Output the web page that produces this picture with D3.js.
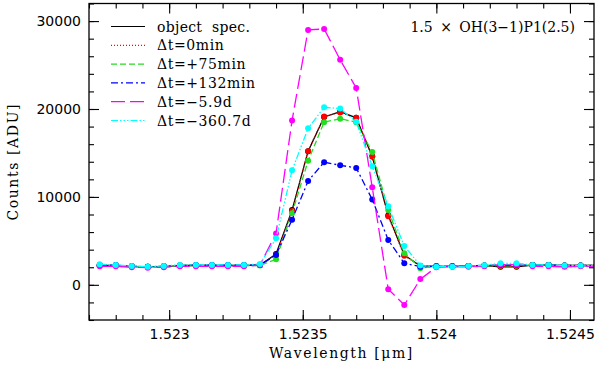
<!DOCTYPE html>
<html>
<head>
<meta charset="utf-8">
<script src="https://cdn.jsdelivr.net/npm/d3@7"></script>
<style>
  body { margin: 0; background: #fff; }
  svg { display: block; }
  .axis path, .axis line { stroke: #000; }
  .axis text { font-family: "DejaVu Sans", sans-serif; font-size: 14px; fill: #000; }
</style>
</head>
<body>
<svg id="chart"></svg>
<script>
// wavelengths of the spectrum pixels [micron]
const wavelength = [1.52274, 1.52280, 1.52286, 1.52292, 1.52298, 1.52304, 1.52310, 1.52316,
    1.52322, 1.52328, 1.52334, 1.52340, 1.52346, 1.52352, 1.52358, 1.52364,
    1.52370, 1.52376, 1.52382, 1.52388, 1.52394, 1.52400, 1.52406, 1.52412,
    1.52418, 1.52424, 1.52430, 1.52436, 1.52442, 1.52448, 1.52454, 1.52460];

// counts [ADU]
const objectSpec = [2200, 2200, 2100, 2050, 2100, 2200, 2200, 2200, 2200, 2200, 2250, 3500,
    8500, 15200, 19100, 19700, 19000, 14600, 7900, 3400, 2150, 2100, 2100, 2150,
    2200, 2050, 2050, 2250, 2250, 2200, 2200, 2200];
const dt0min = [2200, 2200, 2100, 2050, 2100, 2200, 2200, 2200, 2200, 2200, 2250, 3400,
    8400, 15200, 19150, 19600, 19000, 14600, 7800, 3300, 2150, 2100, 2100, 2150,
    2200, 2100, 2100, 2250, 2250, 2200, 2200, 2200];
const dt75min = [2200, 2200, 2100, 2050, 2100, 2200, 2200, 2200, 2200, 2200, 2200, 2900,
    8150, 14100, 18500, 18900, 18500, 15100, 8500, 3600, 1900, 2100, 2100, 2150,
    2200, 2200, 2200, 2250, 2250, 2200, 2200, 2200];
const dt132min = [2250, 2250, 2100, 2050, 2100, 2200, 2250, 2250, 2250, 2250, 2250, 3400,
    7400, 11800, 13950, 13600, 13300, 9700, 5100, 2450, 2070, 2100, 2100, 2150,
    2200, 2250, 2250, 2250, 2250, 2200, 2200, 2200];
const dtMinus5p9d = [2100, 2100, 2000, 1950, 2000, 2100, 2100, 2100, 2100, 2100, 2250, 5850,
    18700, 29000, 29100, 25600, 22400, 11100, -500, -2300, 650, 2000, 2050, 2050,
    2100, 2300, 2300, 2100, 2100, 2050, 2100, 2100];
const dtMinus360p7d = [2340, 2270, 2150, 2070, 2150, 2270, 2270, 2270, 2270, 2270, 2380, 5290,
    13020, 17800, 20200, 20050, 18550, 13480, 8950, 4420, 2190, 2070, 2070, 2150,
    2230, 2450, 2450, 2270, 2270, 2190, 2190, 2190];

const seriesNames = ["object spec.", "\u0394t=0min", "\u0394t=+75min", "\u0394t=+132min",
    "\u0394t=\u22125.9d", "\u0394t=\u2212360.7d"];
const seriesValues = [objectSpec, dt0min, dt75min, dt132min, dtMinus5p9d, dtMinus360p7d];
const seriesColors = ["#000000", "#ff0000", "#22dd22", "#0000ff", "#ff00ff", "#00ffff"];
const seriesDash = ["none", "1,2", "6,3", "7,3,2,3", "14,5", "7,2,1.5,2,1.5,2,1.5,2"];

const xTicks = [1.523, 1.5235, 1.524, 1.5245];
const xTickLabels = ["1.523", "1.5235", "1.524", "1.5245"];
const yTicks = [0, 10000, 20000, 30000];
const yTickLabels = ["0", "10000", "20000", "30000"];

const width = 600, height = 365;
const plotLeft = 89, plotRight = 594, plotTop = 3.5, plotBottom = 320;

const svg = d3.select("#chart").attr("width", width).attr("height", height);

const x = d3.scaleLinear().domain([1.5227, 1.52459]).range([plotLeft, plotRight]);
const y = d3.scaleLinear().domain([-4000, 32000]).range([plotBottom, plotTop]);

const xMinor = d3.range(0, 19).map(i => 1.5227 + i * 0.0001);
const yMinor = d3.range(-4000, 32001, 2000);

svg.append("defs").append("clipPath").attr("id", "plotclip")
    .append("rect").attr("x", plotLeft).attr("y", plotTop)
    .attr("width", plotRight - plotLeft).attr("height", plotBottom - plotTop);

// minor ticks on all four sides
function minorAxis(axis, scale, vals, tx, ty) {
    svg.append("g").attr("class", "axis")
        .attr("transform", "translate(" + tx + "," + ty + ")")
        .call(axis(scale).tickValues(vals).tickSize(-5).tickFormat(""))
        .call(g => g.select(".domain").remove());
}
minorAxis(d3.axisBottom, x, xMinor, 0, plotBottom);
minorAxis(d3.axisTop, x, xMinor, 0, plotTop);
minorAxis(d3.axisLeft, y, yMinor, plotLeft, 0);
minorAxis(d3.axisRight, y, yMinor, plotRight, 0);

// major ticks
svg.append("g").attr("class", "axis")
    .attr("transform", "translate(0," + plotBottom + ")")
    .call(d3.axisBottom(x).tickValues(xTicks).tickSize(-10).tickPadding(9)
        .tickFormat((d, i) => xTickLabels[i]))
    .call(g => g.select(".domain").remove());
svg.append("g").attr("class", "axis")
    .attr("transform", "translate(0," + plotTop + ")")
    .call(d3.axisTop(x).tickValues(xTicks).tickSize(-10).tickFormat(""))
    .call(g => g.select(".domain").remove());
svg.append("g").attr("class", "axis")
    .attr("transform", "translate(" + plotLeft + ",0)")
    .call(d3.axisLeft(y).tickValues(yTicks).tickSize(-10).tickPadding(8)
        .tickFormat((d, i) => yTickLabels[i]))
    .call(g => g.select(".domain").remove());
svg.append("g").attr("class", "axis")
    .attr("transform", "translate(" + plotRight + ",0)")
    .call(d3.axisRight(y).tickValues(yTicks).tickSize(-10).tickFormat(""))
    .call(g => g.select(".domain").remove());

svg.selectAll(".axis line").attr("stroke-width", 1.1);

// the spectra
const line = d3.line()
    .x((d, i) => x(wavelength[i]))
    .y(d => y(d));

const plot = svg.append("g").attr("clip-path", "url(#plotclip)");

seriesValues.forEach(function (vals, k) {
    plot.append("path")
        .attr("d", line(vals))
        .attr("fill", "none")
        .attr("stroke", seriesColors[k])
        .attr("stroke-width", 1.3)
        .attr("stroke-dasharray", seriesDash[k]);
    plot.selectAll(null)
        .data(vals)
        .enter()
        .append("circle")
        .attr("cx", (d, i) => x(wavelength[i]))
        .attr("cy", d => y(d))
        .attr("r", 3)
        .attr("fill", seriesColors[k]);
});

// frame
svg.append("rect")
    .attr("x", plotLeft).attr("y", plotTop)
    .attr("width", plotRight - plotLeft).attr("height", plotBottom - plotTop)
    .attr("fill", "none").attr("stroke", "#000").attr("stroke-width", 1.3);

// legend
const legend = svg.append("g").attr("font-family", "DejaVu Serif, serif").attr("font-size", 14);
seriesNames.forEach(function (name, k) {
    const ly = 26.5 + k * 18.8;
    legend.append("line")
        .attr("x1", 111).attr("x2", 145).attr("y1", ly).attr("y2", ly)
        .attr("stroke", seriesColors[k]).attr("stroke-width", 1.2)
        .attr("stroke-dasharray", seriesDash[k]);
    legend.append("text")
        .attr("x", 157).attr("y", ly + 5)
        .attr("fill", "#000")
        .style("letter-spacing", k === 0 ? "0.3px" : "0.6px")
        .style("word-spacing", "5px")
        .text(name);
});

svg.append("text")
    .attr("x", 575).attr("y", 31.5)
    .attr("text-anchor", "end")
    .attr("font-family", "DejaVu Serif, serif").attr("font-size", 14)
    .style("word-spacing", "3px")
    .text("1.5 \u00d7 OH(3\u22121)P1(2.5)");

// axis titles
svg.append("text")
    .attr("x", (plotLeft + plotRight) / 2).attr("y", 358)
    .attr("text-anchor", "middle")
    .attr("font-family", "DejaVu Serif, serif").attr("font-size", 14)
    .style("letter-spacing", "1.6px")
    .text("Wavelength [\u03bcm]");

svg.append("text")
    .attr("transform", "translate(18," + ((plotTop + plotBottom) / 2) + ") rotate(-90)")
    .attr("text-anchor", "middle")
    .attr("font-family", "DejaVu Serif, serif").attr("font-size", 14)
    .style("letter-spacing", "1.6px")
    .text("Counts [ADU]");
</script>
</body>
</html>
